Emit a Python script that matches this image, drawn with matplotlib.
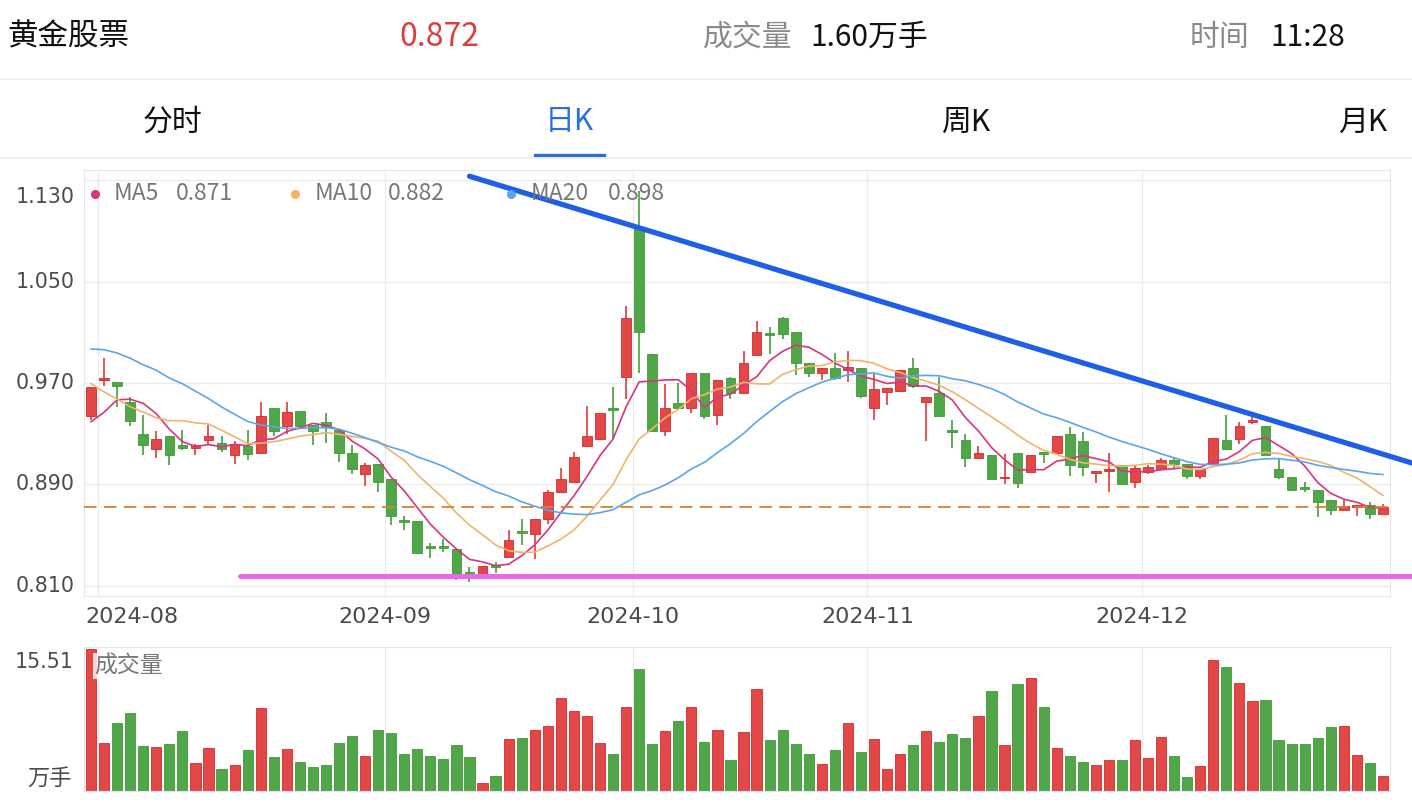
import matplotlib
matplotlib.use("Agg")
import matplotlib.pyplot as plt
from matplotlib.lines import Line2D
import numpy as np
import pandas as pd

plt.rcParams['font.family'] = ['Noto Sans CJK SC', 'DejaVu Sans']

# closes before the first visible candle (only feed the moving averages)
prior_closes = [0.985, 1.020, 1.022, 1.025, 1.012, 1.035, 1.010, 1.038, 1.044, 1.050,
                1.039, 1.026, 1.000, 0.962, 0.971, 0.936, 0.919, 0.938, 0.937]

opens = [0.944, 0.973, 0.971, 0.955, 0.930, 0.918, 0.928, 0.921, 0.919, 0.925,
         0.923, 0.913, 0.920, 0.915, 0.950, 0.936, 0.948, 0.937, 0.939, 0.933,
         0.915, 0.898, 0.906, 0.894, 0.862, 0.861, 0.841, 0.841, 0.839, 0.821,
         0.819, 0.826, 0.833, 0.853, 0.851, 0.863, 0.884, 0.892, 0.920, 0.926,
         0.950, 0.975, 1.091, 0.993, 0.932, 0.954, 0.950, 0.978, 0.945, 0.974,
         0.962, 0.992, 1.009, 1.021, 1.010, 0.986, 0.978, 0.982, 0.980, 0.982,
         0.950, 0.963, 0.964, 0.982, 0.955, 0.962, 0.933, 0.925, 0.911, 0.913,
         0.895, 0.915, 0.900, 0.915, 0.915, 0.930, 0.924, 0.899, 0.901, 0.905,
         0.892, 0.900, 0.902, 0.909, 0.906, 0.897, 0.907, 0.925, 0.926, 0.939,
         0.936, 0.902, 0.896, 0.888, 0.886, 0.878, 0.870, 0.872, 0.874, 0.867]
highs = [0.967, 0.990, 0.971, 0.959, 0.945, 0.932, 0.928, 0.933, 0.922, 0.937,
         0.928, 0.924, 0.933, 0.955, 0.950, 0.955, 0.948, 0.937, 0.946, 0.933,
         0.921, 0.907, 0.906, 0.894, 0.865, 0.861, 0.844, 0.847, 0.839, 0.825,
         0.826, 0.829, 0.854, 0.863, 0.863, 0.886, 0.903, 0.916, 0.952, 0.946,
         0.967, 1.031, 1.121, 0.993, 0.969, 0.970, 0.978, 0.978, 0.972, 0.975,
         0.995, 1.019, 1.014, 1.022, 1.010, 0.986, 0.982, 0.994, 0.995, 0.982,
         0.977, 0.966, 0.980, 0.990, 0.959, 0.975, 0.941, 0.930, 0.920, 0.913,
         0.914, 0.915, 0.913, 0.916, 0.928, 0.935, 0.931, 0.901, 0.915, 0.905,
         0.905, 0.905, 0.911, 0.911, 0.906, 0.902, 0.927, 0.945, 0.939, 0.943,
         0.936, 0.911, 0.896, 0.892, 0.886, 0.878, 0.878, 0.874, 0.876, 0.875]
lows = [0.941, 0.968, 0.951, 0.936, 0.913, 0.911, 0.905, 0.917, 0.913, 0.921,
        0.916, 0.906, 0.909, 0.915, 0.928, 0.930, 0.935, 0.921, 0.923, 0.908,
        0.898, 0.889, 0.884, 0.858, 0.854, 0.835, 0.832, 0.837, 0.815, 0.813,
        0.817, 0.820, 0.833, 0.842, 0.831, 0.859, 0.884, 0.892, 0.920, 0.925,
        0.926, 0.957, 0.978, 0.932, 0.928, 0.949, 0.946, 0.942, 0.937, 0.957,
        0.962, 0.992, 0.993, 1.005, 0.976, 0.975, 0.972, 0.972, 0.971, 0.958,
        0.941, 0.953, 0.963, 0.966, 0.924, 0.944, 0.919, 0.904, 0.911, 0.894,
        0.890, 0.887, 0.900, 0.907, 0.915, 0.897, 0.897, 0.891, 0.884, 0.890,
        0.887, 0.898, 0.902, 0.903, 0.894, 0.894, 0.907, 0.918, 0.922, 0.938,
        0.913, 0.894, 0.886, 0.884, 0.864, 0.866, 0.870, 0.865, 0.863, 0.867]
closes = [0.967, 0.974, 0.968, 0.940, 0.921, 0.926, 0.913, 0.919, 0.921, 0.928,
          0.918, 0.922, 0.914, 0.944, 0.932, 0.947, 0.936, 0.932, 0.936, 0.915,
          0.902, 0.905, 0.892, 0.865, 0.861, 0.836, 0.840, 0.840, 0.819, 0.820,
          0.826, 0.825, 0.846, 0.852, 0.863, 0.884, 0.894, 0.912, 0.928, 0.946,
          0.949, 1.021, 1.010, 0.932, 0.950, 0.950, 0.978, 0.944, 0.972, 0.962,
          0.986, 1.010, 1.008, 1.009, 0.986, 0.978, 0.982, 0.974, 0.983, 0.960,
          0.965, 0.966, 0.980, 0.968, 0.959, 0.944, 0.932, 0.911, 0.915, 0.894,
          0.896, 0.891, 0.913, 0.914, 0.928, 0.905, 0.904, 0.901, 0.902, 0.890,
          0.903, 0.904, 0.909, 0.906, 0.897, 0.902, 0.927, 0.918, 0.936, 0.941,
          0.913, 0.896, 0.886, 0.887, 0.876, 0.870, 0.873, 0.874, 0.867, 0.872]
# 万手
volumes = [15.51, 5.27, 7.46, 8.49, 4.90, 4.83, 5.12, 6.58, 3.07, 4.72,
           2.41, 2.85, 4.46, 9.07, 3.73, 4.54, 3.18, 2.60, 2.85, 5.19,
           5.96, 3.84, 6.66, 6.33, 3.99, 4.61, 3.77, 3.48, 5.01, 3.73,
           0.88, 1.61, 5.67, 5.82, 6.69, 7.10, 10.17, 8.74, 8.16, 5.23,
           4.02, 9.22, 13.28, 5.12, 6.51, 7.68, 9.18, 5.34, 6.66, 3.44,
           6.44, 11.12, 5.60, 6.69, 5.08, 4.06, 2.96, 4.50, 7.43, 4.28,
           5.67, 2.41, 4.02, 5.01, 6.55, 5.30, 6.26, 5.82, 8.16, 10.97,
           5.01, 11.67, 12.33, 9.22, 4.65, 3.84, 3.18, 2.85, 3.44, 3.44,
           5.56, 3.62, 5.89, 3.84, 1.54, 2.71, 14.34, 13.50, 11.78, 9.84,
           9.91, 5.56, 5.12, 5.12, 5.82, 6.99, 7.10, 3.95, 3.04, 1.60]

month_pos = [0.5, 22.5, 41.5, 59.5, 80.5]
month_labels = ['2024-08', '2024-09', '2024-10', '2024-11', '2024-12']
price_ticks = [0.810, 0.890, 0.970, 1.050, 1.130]

# drawn guide lines (candle index, price)
trend_x = [29.0, 101.2]
trend_y = [1.133, 0.907]
support_x = [11.4, 101.2]
support_y = [0.818, 0.818]
last_price = 0.872

RED = '#e34848'
GREEN = '#52a64a'
RED_EDGE = '#d42a2a'
GREEN_EDGE = '#3d9a36'
GRID = '#ececec'
NUM_FONT = ['DejaVu Sans']

W, H = 1412, 810
fig = plt.figure(figsize=(W / 100, H / 100), dpi=100)


def fx(x):
    return x / W


def fy(y):
    return 1 - y / H


# header
fig.text(fx(7), fy(37), '黄金股票', fontsize=22, color='#111111', va='center', ha='left')
fig.text(fx(439), fy(37), '0.872', fontsize=23, color='#e03c3c', va='center', ha='center')
fig.text(fx(703), fy(37), '成交量', fontsize=21.5, color='#8a8a8a', va='center', ha='left')
fig.text(fx(810), fy(37), '1.60万手', fontsize=21.5, color='#111111', va='center', ha='left')
fig.text(fx(1190), fy(37), '时间', fontsize=21.5, color='#8a8a8a', va='center', ha='left')
fig.text(fx(1270), fy(37), '11:28', fontsize=21.5, color='#111111', va='center', ha='left')
fig.add_artist(Line2D([0, 1], [fy(79), fy(79)], color='#eeeeee', lw=1.2))

# tabs
for cx, lab, c in [(173, '分时', '#111111'), (569, '日K', '#2a6fe0'),
                   (966, '周K', '#111111'), (1363, '月K', '#111111')]:
    fig.text(fx(cx), fy(122), lab, fontsize=21.5, color=c, va='center', ha='center')
fig.add_artist(Line2D([fx(535), fx(604)], [fy(155), fy(155)], color='#2a6fe0', lw=2.4))
fig.add_artist(Line2D([0, 1], [fy(158), fy(158)], color='#eeeeee', lw=1.2))

# price panel
ax = fig.add_axes([fx(84), fy(596), fx(1390) - fx(84), fy(170) - fy(596)])
o = np.array(opens)
h = np.array(highs)
l = np.array(lows)
c = np.array(closes)
idx = np.arange(len(c))
up = c >= o
cols = np.where(up, RED, GREEN)
edges = np.where(up, RED_EDGE, GREEN_EDGE)

ax.vlines(idx, l, h, colors=cols, lw=1.3, zorder=2)
min_h = 0.0015
body = np.abs(c - o)
bottom = np.where(body < min_h, (o + c) / 2 - min_h / 2, np.minimum(o, c))
ax.bar(idx, np.maximum(body, min_h), bottom=bottom, width=0.74, color=cols,
       edgecolor=edges, lw=0.6, zorder=2)

all_c = pd.Series(prior_closes + closes)
n0 = len(prior_closes)
ma5 = all_c.rolling(5).mean().iloc[n0:].values
ma10 = all_c.rolling(10).mean().iloc[n0:].values
ma20 = all_c.rolling(20).mean().iloc[n0:].values
ax.plot(idx, ma5, color='#d9347f', lw=1.2, zorder=3)
ax.plot(idx, ma10, color='#f0b46a', lw=1.2, zorder=3)
ax.plot(idx, ma20, color='#5aa6ea', lw=1.2, zorder=3)

ax.axhline(last_price, color='#d9822b', lw=1.3, dashes=(7, 4), zorder=3)
ax.plot(trend_x, trend_y, color='#1f5fe8', lw=3.8, clip_on=False, zorder=4,
        solid_capstyle='round')
ax.plot(support_x, support_y, color='#e86ae8', lw=3.6, clip_on=False, zorder=4,
        solid_capstyle='round')

ax.set_xlim(-0.54, 99.54)
ax.set_ylim(0.8021, 1.1379)
ax.set_yticks(price_ticks)
ax.set_xticks(month_pos)
ax.set_yticklabels([])
ax.set_xticklabels([])
ax.tick_params(length=0)
ax.grid(True, color=GRID, lw=1)
ax.set_axisbelow(True)
for s in ax.spines.values():
    s.set_color('#e6e6e6')

# price labels, the top one sits below its gridline
yt = ax.get_yaxis_transform()
for k, v in enumerate(price_ticks):
    top = k == len(price_ticks) - 1
    ax.text(-0.007, v - (0.0055 if top else 0), f'{v:.3f}', transform=yt,
            ha='right', va='top' if top else 'center', fontsize=14.8,
            color='#4a4a4a', family=NUM_FONT)

# month labels, the first one starts at the left edge
xt = ax.get_xaxis_transform()
for k, (pos, lab) in enumerate(zip(month_pos, month_labels)):
    ax.text(-0.45 if k == 0 else pos, -0.05, lab, transform=xt,
            ha='left' if k == 0 else 'center', va='center', fontsize=16,
            color='#4a4a4a', family=NUM_FONT)

# legend
legend = [(95, 114, 176, '#d9347f', 'MA5', '0.871'),
          (295, 315, 388, '#f0b46a', 'MA10', '0.882'),
          (511, 531, 608, '#5aa6ea', 'MA20', '0.898')]
for dx, tx, vx, dc, name, val in legend:
    fig.add_artist(Line2D([fx(dx)], [fy(194)], marker='o', markersize=5.5,
                          color=dc, lw=0))
    fig.text(fx(tx), fy(194), name, fontsize=16.5, color='#777777', va='center', ha='left')
    fig.text(fx(vx), fy(194), val, fontsize=16.5, color='#777777', va='center', ha='left')

# volume panel
vax = fig.add_axes([fx(84), fy(791), fx(1390) - fx(84), fy(647) - fy(791)])
vax.bar(idx, volumes, width=0.78, color=cols, edgecolor=edges, lw=0.6, zorder=2)
vax.set_xlim(-0.54, 99.54)
vax.set_ylim(0, 15.73)
vax.set_xticks(month_pos)
vax.set_xticklabels([])
vax.set_yticks([])
vax.tick_params(length=0)
vax.grid(True, axis='x', color=GRID, lw=1)
vax.set_axisbelow(True)
for s in vax.spines.values():
    s.set_color('#e6e6e6')
fig.text(fx(74), fy(662), f'{max(volumes):.2f}', fontsize=14.8, color='#4a4a4a',
         va='center', ha='right', family=NUM_FONT)
fig.text(fx(72), fy(778), '万手', fontsize=16, color='#4a4a4a', va='center', ha='right')
fig.text(fx(94), fy(666), '成交量', fontsize=16.5, color='#777777', va='center', ha='left',
         bbox=dict(facecolor='white', edgecolor='none', alpha=0.8, pad=1))

fig.savefig('out.png', dpi=100, facecolor='white')
